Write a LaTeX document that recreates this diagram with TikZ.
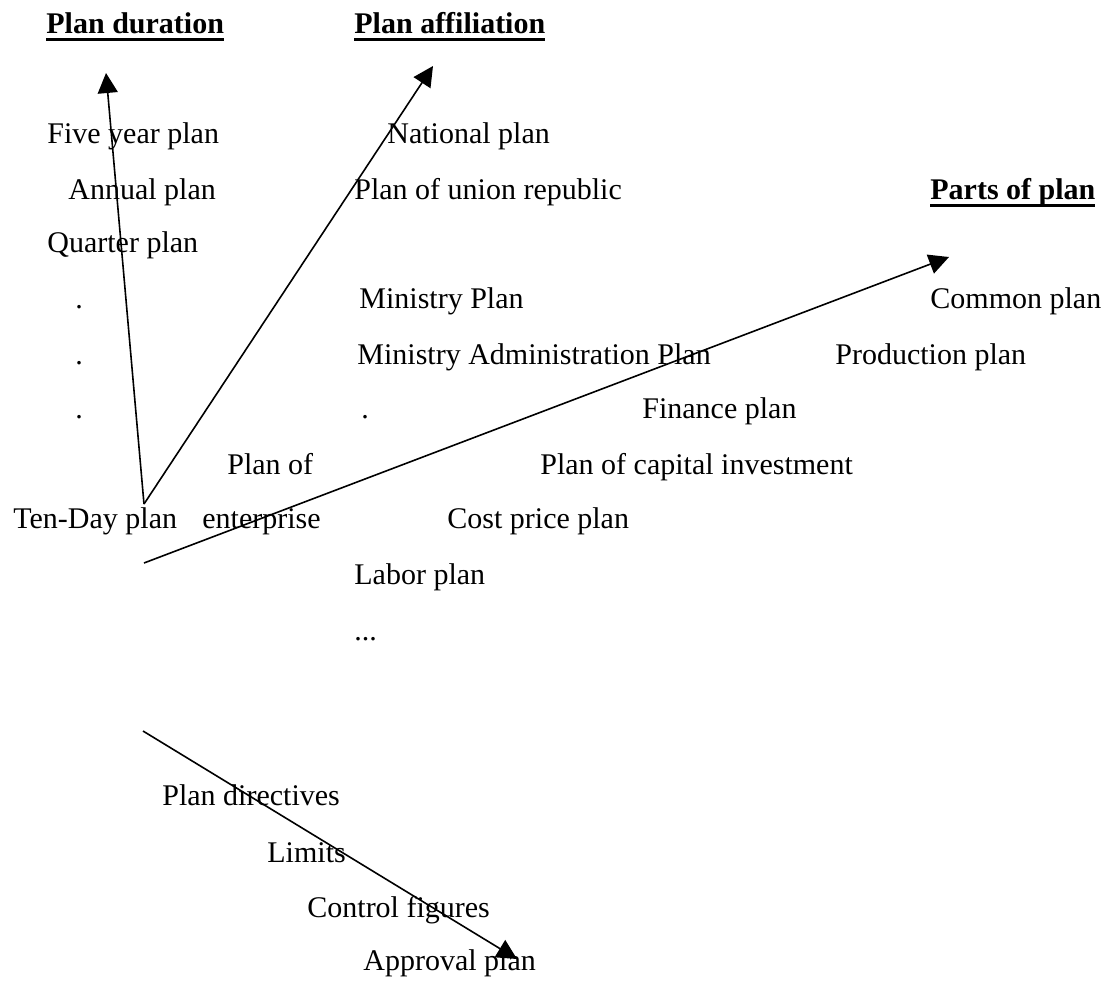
\documentclass[tikz,border=0pt]{standalone}
\usepackage{fontspec}
\setmainfont{Liberation Serif}
\usepackage{tikz}
\usetikzlibrary{arrows.meta}
\newsavebox{\headbox}
\newcommand{\planhead}[1]{\sbox{\headbox}{\bfseries #1}\rlap{\rule[-3.75pt]{\wd\headbox}{1.5pt}}\usebox{\headbox}}

\begin{document}
\begin{tikzpicture}[x=0.5pt, y=-0.5pt,
  every node/.style={anchor=base west, inner sep=0pt, font=\fontsize{15}{18}\selectfont},
  planarrow/.style={line width=0.8pt, -{Triangle[length=10pt,width=10pt]}}]
  \useasboundingbox (0,0) rectangle (1109,981);

  % headings
  \node (hdur) at (46,33) {\planhead{Plan duration}};
  \node (haff) at (354,33) {\planhead{Plan affiliation}};
  \node (hpart) at (930,199) {\planhead{Parts of plan}};

  % plan duration
  \node (five) at (47,143) {Five year plan};
  \node (annual) at (68,199) {Annual plan};
  \node (quarter) at (47,252) {Quarter plan};
  \node (dota) at (75,308) {.};
  \node (dotb) at (75,364) {.};
  \node (dotc) at (75,418) {.};
  \node (tenday) at (13,528) {Ten-Day plan};

  % plan affiliation
  \node (national) at (387,143) {National plan};
  \node (union) at (354,199) {Plan of union republic};
  \node (ministry) at (359,308) {Ministry Plan};
  \node (minadm) at (357,364) {Ministry Administration Plan};
  \node (dotd) at (361,418) {.};
  \node (entera) at (227,474) {Plan of};
  \node (enterb) at (202,528) {enterprise};

  % parts of plan
  \node (common) at (930,308) {Common plan};
  \node (product) at (835,364) {Production plan};
  \node (finance) at (642,418) {Finance plan};
  \node (capital) at (540,474) {Plan of capital investment};
  \node (cost) at (447,528) {Cost price plan};
  \node (labor) at (354,584) {Labor plan};
  \node (more) at (354,640) {...};

  % plan stages
  \node (direct) at (162,805) {Plan directives};
  \node (limits) at (267,862) {Limits};
  \node (control) at (307,917) {Control figures};
  \node (approve) at (363,970) {Approval plan};

  % arrows
  \coordinate (hub) at (144,504);
  \coordinate (partfoot) at (144,563);
  \coordinate (stagefoot) at (143,731);
  \coordinate (durtip) at (106,73);
  \coordinate (afftip) at (433,66);
  \coordinate (parttip) at (949,257);
  \coordinate (stagetip) at (517,959);
  \draw[planarrow] (hub) -- (durtip);
  \draw[planarrow] (hub) -- (afftip);
  \draw[planarrow] (partfoot) -- (parttip);
  \draw[planarrow] (stagefoot) -- (stagetip);
\end{tikzpicture}
\end{document}
